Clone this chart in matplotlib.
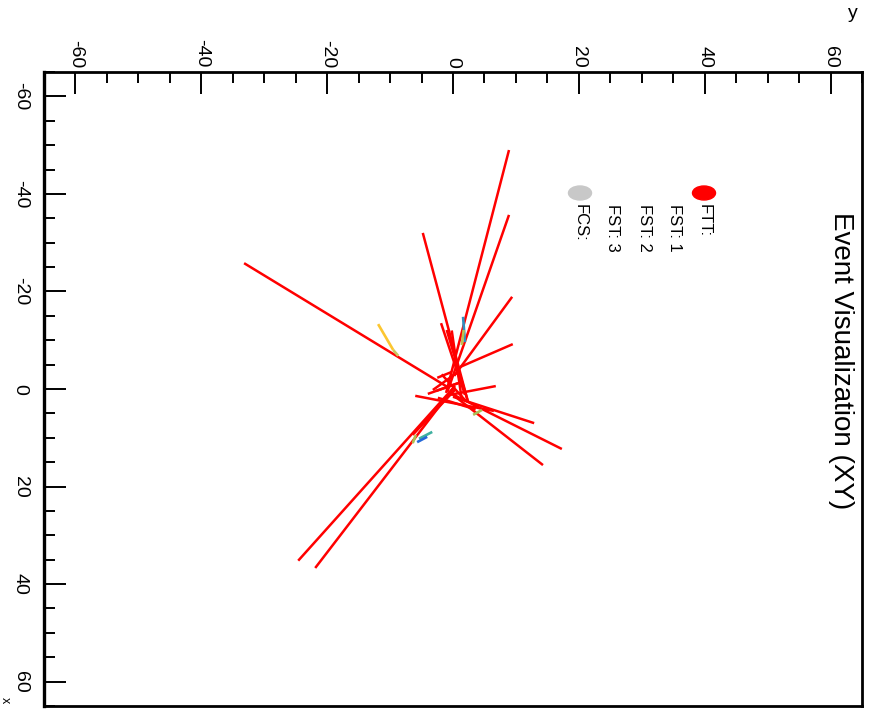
import matplotlib
matplotlib.use("Agg")
import matplotlib.pyplot as plt
from matplotlib.patches import Ellipse
from matplotlib.ticker import MultipleLocator
from matplotlib import font_manager

plt.rcParams["axes.unicode_minus"] = False

W, H = 884, 712

names = {f.name for f in font_manager.fontManager.ttflist}
narrow = "Liberation Sans Narrow" if "Liberation Sans Narrow" in names else "Liberation Sans"
sans = "Liberation Sans" if "Liberation Sans" in names else "DejaVu Sans"

# Track segments in detector coordinates: (x0, y0, x1, y1)
ftt_x0 = [-0.2, 0.8, 0.6, -2.7, -32.0, -13.5, -4.5, 1.2, 1.6, 0.8, 1.2, 1.4, -0.6, -0.6, 0.2, -2.3, 0.4, 9.4, 1.0, -12.1, -12.0, 1.8, -3.0]
ftt_y0 = [-0.6, -1.1, -0.9, 0.2, -4.8, -1.9, 1.1, -0.5, 0.0, -0.5, 0.0, -6.0, 0.3, 0.3, -3.2, -2.5, -2.7, -6.4, -4.0, -1.0, -0.2, -2.4, -1.8]
ftt_x1 = [-25.8, -49.0, -35.7, -18.9, 2.7, 1.2, -9.2, -0.6, 7.0, 12.3, 15.6, 4.5, 35.2, 36.7, -3.3, -3.5, -1.2, 0.2, -1.5, 2.7, 2.2, 4.2, 2.4]
ftt_y1 = [-33.2, 8.9, 8.9, 9.4, 2.4, 1.9, 9.5, 6.8, 12.9, 17.3, 14.3, 6.5, -24.6, -21.9, 0.6, -0.2, 0.8, 0.3, 1.5, 2.4, 1.4, 3.6, 2.0]

# FST hit segments with their colours
fst_x0 = [-13.3, -8.0, 8.8, 9.8, 9.4, -14.8, -12.1, 5.3]
fst_y0 = [-11.9, -9.5, -3.3, -4.1, -5.9, 1.6, 1.7, 3.2]
fst_x1 = [-8.0, -6.8, 10.2, 10.9, 11.1, -9.6, -9.0, 4.3]
fst_y1 = [-9.5, -8.7, -5.4, -5.7, -6.4, 1.9, 1.4, 4.6]
fst_col = ["#fcc630", "#c8c860", "#3fb0a0", "#2468d8", "#b0c050", "#2f8fc0", "#c0c050", "#a8c058"]

ticks = [-60, -40, -20, 0, 20, 40, 60]
legend_labels = ["FTT:", "FST: 1", "FST: 2", "FST: 3", "FCS:"]
legend_marker = ["#ff0000", None, None, None, "#c8c8c8"]

fig = plt.figure(figsize=(W / 100, H / 100), dpi=100)
fig.patch.set_facecolor("white")

left, right, top, bottom = 44, 862, 72, 706
ax = fig.add_axes([left / W, (H - bottom) / H, (right - left) / W, (bottom - top) / H])

# horizontal axis carries y, vertical axis carries x (increasing downward)
ax.set_xlim(-65, 65)
ax.set_ylim(65, -65)

for x0, y0, x1, y1 in zip(ftt_x0, ftt_y0, ftt_x1, ftt_y1):
    ax.plot([y0, y1], [x0, x1], color="#ff0000", lw=1.8, solid_capstyle="butt")
for x0, y0, x1, y1, c in zip(fst_x0, fst_y0, fst_x1, fst_y1, fst_col):
    ax.plot([y0, y1], [x0, x1], color=c, lw=1.9, solid_capstyle="butt")

ax.xaxis.set_ticks_position("top")
ax.xaxis.set_label_position("top")
ax.yaxis.set_ticks_position("left")
ax.set_xticks(ticks)
ax.set_yticks(ticks)
ax.xaxis.set_minor_locator(MultipleLocator(5))
ax.yaxis.set_minor_locator(MultipleLocator(5))
ax.tick_params(which="major", direction="in", length=16, width=1.4, colors="black")
ax.tick_params(which="minor", direction="in", length=8, width=1.4)
ax.tick_params(axis="x", which="major", pad=3)
ax.tick_params(axis="y", which="major", pad=11)
for lab in ax.get_xticklabels() + ax.get_yticklabels():
    lab.set_rotation(-90)
    lab.set_fontsize(14)
    lab.set_family(sans)
for lab in ax.get_yticklabels():
    lab.set_verticalalignment("center")

for s in ax.spines.values():
    s.set_linewidth(2)
ax.spines["left"].set_linewidth(2.4)

# title and axis names
fig.text(841 / W, 1 - 212 / H, "Event Visualization (XY)", rotation=-90,
         ha="center", va="top", fontsize=20, family=narrow)
fig.text(853 / W, 1 - 14 / H, "y", ha="center", va="center", fontsize=14, family=sans)
fig.text(5 / W, 1 - 700 / H, "x", rotation=-90, ha="center", va="center", fontsize=9, family=sans)

# legend
lx = [704, 674, 644, 613, 580]
for xp, lab, mc in zip(lx, legend_labels, legend_marker):
    fig.text(xp / W, 1 - 204 / H, lab, rotation=-90, ha="center", va="top",
             fontsize=12, family=narrow)
    if mc is not None:
        fig.patches.append(Ellipse((xp / W, 1 - 193 / H), 23 / W, 14 / H,
                                   transform=fig.transFigure, color=mc, figure=fig))

fig.savefig("out.png", dpi=100, facecolor="white")
